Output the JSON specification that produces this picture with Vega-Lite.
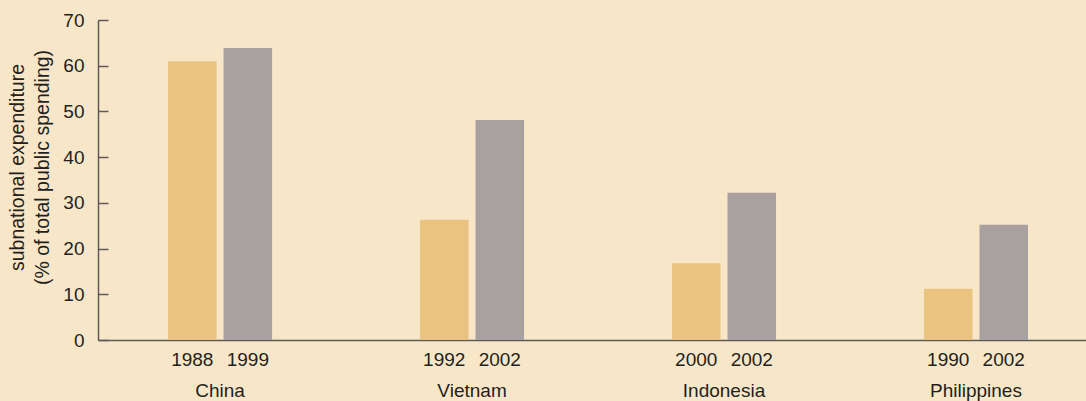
{
  "$schema": "https://vega.github.io/schema/vega-lite/v6.json",
  "width": 988,
  "height": 320,
  "autosize": {"type": "none"},
  "padding": {"left": 98, "top": 20, "right": 0, "bottom": 61},
  "background": "#f8e6c9",
  "config": {
    "view": {"stroke": null},
    "font": "Liberation Sans, Arial, sans-serif",
    "axis": {"labelFont": "Liberation Sans, Arial, sans-serif", "titleFont": "Liberation Sans, Arial, sans-serif"}
  },
  "data": {
    "values": [
      {"country": "China", "pos": 1, "year": "1988", "value": 61.0},
      {"country": "China", "pos": 2, "year": "1999", "value": 63.9},
      {"country": "Vietnam", "pos": 1, "year": "1992", "value": 26.3},
      {"country": "Vietnam", "pos": 2, "year": "2002", "value": 48.1},
      {"country": "Indonesia", "pos": 1, "year": "2000", "value": 16.8},
      {"country": "Indonesia", "pos": 2, "year": "2002", "value": 32.2},
      {"country": "Philippines", "pos": 1, "year": "1990", "value": 11.2},
      {"country": "Philippines", "pos": 2, "year": "2002", "value": 25.2}
    ]
  },
  "encoding": {
    "x": {
      "field": "country",
      "type": "nominal",
      "sort": ["China", "Vietnam", "Indonesia", "Philippines"],
      "scale": {"paddingInner": 0.587, "paddingOuter": 0.254, "align": 0.547},
      "axis": {
        "title": null,
        "labelAngle": 0,
        "ticks": false,
        "domainColor": "#5e5a58",
        "domainWidth": 1.5,
        "labelFontSize": 19,
        "labelColor": "#231f20",
        "labelPadding": 41
      }
    },
    "xOffset": {"field": "pos", "type": "nominal", "scale": {"paddingInner": 0.126, "paddingOuter": 0}}
  },
  "layer": [
    {
      "mark": {"type": "bar"},
      "encoding": {
        "y": {
          "field": "value",
          "type": "quantitative",
          "scale": {"domain": [0, 70], "nice": false},
          "axis": {
            "values": [0, 10, 20, 30, 40, 50, 60, 70],
            "grid": false,
            "tickSize": -10,
            "tickColor": "#5e5a58",
            "tickWidth": 1.5,
            "domainColor": "#5e5a58",
            "domainWidth": 1.5,
            "labelFontSize": 19,
            "labelColor": "#231f20",
            "labelPadding": 24,
            "title": ["subnational expenditure", "(% of total public spending)"],
            "titleFontSize": 19.5,
            "titleFontWeight": "normal",
            "titleColor": "#231f20",
            "titleLineHeight": 25,
            "titlePadding": 10,
            "titleY": 147
          }
        },
        "color": {
          "field": "pos",
          "type": "nominal",
          "scale": {"domain": [1, 2], "range": ["#ebc380", "#a9a19f"]},
          "legend": null
        }
      }
    },
    {
      "mark": {"type": "text", "baseline": "middle", "dy": 20, "fontSize": 19, "color": "#231f20"},
      "encoding": {
        "y": {"datum": 0, "type": "quantitative"},
        "text": {"field": "year"}
      }
    }
  ]
}
